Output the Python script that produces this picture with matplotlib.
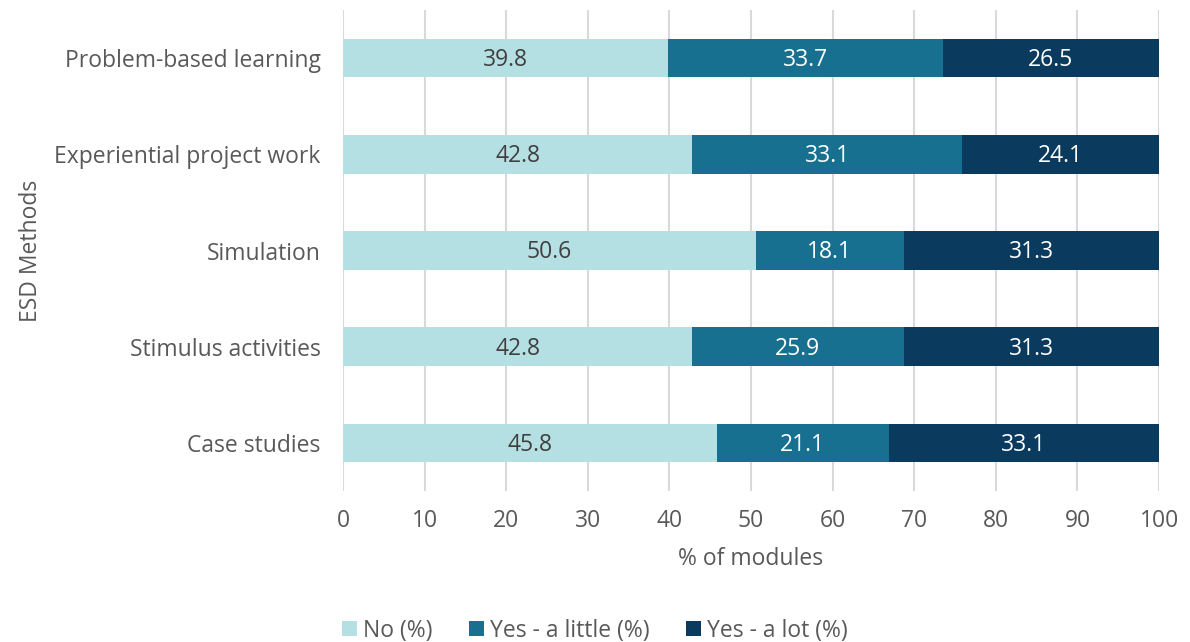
import matplotlib
matplotlib.use("Agg")
import matplotlib.pyplot as plt
import numpy as np

categories = ["Problem-based learning", "Experiential project work", "Simulation",
              "Stimulus activities", "Case studies"]
no_vals = [39.8, 42.8, 50.6, 42.8, 45.8]
little_vals = [33.7, 33.1, 18.1, 25.9, 21.1]
lot_vals = [26.5, 24.1, 31.3, 31.3, 33.1]
series_names = ["No (%)", "Yes - a little (%)", "Yes - a lot (%)"]
xticks = [0, 10, 20, 30, 40, 50, 60, 70, 80, 90, 100]

colors = ["#B4DFE3", "#17708F", "#0A3A5E"]
label_colors = ["#404040", "white", "white"]
text_color = "#595959"
fs = 16.5

plt.rcParams['font.family'] = ['Open Sans', 'DejaVu Sans']

fig = plt.figure(figsize=(11.9, 6.42), dpi=100)
ax = fig.add_axes([0.2882, 0.2352, 0.974 - 0.2882, 0.9844 - 0.2352])

y = np.arange(len(categories))
left = np.zeros(len(categories))
for vals, c, lc, name in zip([no_vals, little_vals, lot_vals], colors, label_colors, series_names):
    bars = ax.barh(y, vals, left=left, height=0.4, color=c, label=name, zorder=3)
    for b, v in zip(bars, vals):
        ax.text(b.get_x() + b.get_width() / 2, b.get_y() + b.get_height() / 2 + 0.02, f"{v:.1f}",
                ha="center", va="center", color=lc, fontsize=fs, zorder=4)
    left = left + np.array(vals)

ax.set_ylim(len(categories) - 0.5, -0.5)
ax.set_xlim(0, 100)
ax.set_xticks(xticks)
ax.set_yticks(y)
ax.set_yticklabels(categories)
ax.grid(axis="x", color="#D9D9D9", linewidth=1.5, zorder=0)
for s in ax.spines.values():
    s.set_visible(False)
ax.tick_params(axis="both", length=0, colors=text_color, labelsize=fs)
ax.tick_params(axis="x", pad=13)
ax.tick_params(axis="y", pad=16)
ax.set_xlabel("% of modules", color=text_color, fontsize=fs, labelpad=10)
ax.set_ylabel("ESD Methods", color=text_color, fontsize=fs, labelpad=8)

leg = fig.legend(loc="lower center", bbox_to_anchor=(0.5, -0.033), ncol=3, frameon=False,
                 fontsize=fs, handlelength=0.65, handleheight=0.65, handletextpad=0.25,
                 columnspacing=1.6, labelcolor=text_color)

fig.savefig("out.png", dpi=100)
